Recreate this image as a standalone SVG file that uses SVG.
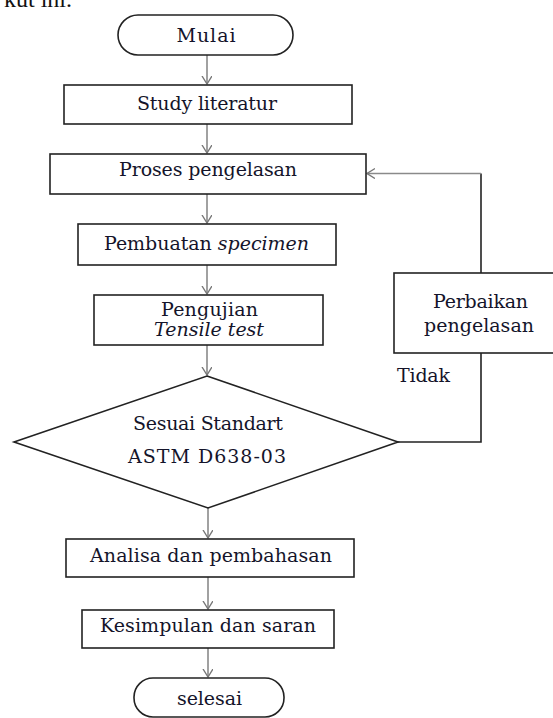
<svg xmlns="http://www.w3.org/2000/svg" width="553" height="718" viewBox="0 0 553 718">
<style>
.box{fill:#fff;stroke:#222;stroke-width:1.6}
.t{font-family:"DejaVu Serif","Liberation Serif",serif;font-size:19px;fill:#14142a;text-anchor:middle}
.i{font-style:italic}
.c{fill:none;stroke:#8a8a8a;stroke-width:1.6}
.k{fill:none;stroke:#222;stroke-width:1.6}
</style>
<defs>
<marker id="ah" markerUnits="userSpaceOnUse" markerWidth="14" markerHeight="14" refX="8" refY="5" orient="auto">
<path d="M0,0 L8,5 L0,10" fill="none" stroke="#777" stroke-width="1.4"/>
</marker>
</defs>
<rect width="553" height="718" fill="#fff"/>
<text x="72" y="7" font-family="Liberation Serif, serif" font-size="24" fill="#111" text-anchor="end">kut ini.</text>
<g id="connectors">
<line class="c" x1="207" y1="55" x2="207" y2="84" marker-end="url(#ah)"/>
<line class="c" x1="207" y1="124" x2="207" y2="153" marker-end="url(#ah)"/>
<line class="c" x1="207" y1="194" x2="207" y2="223" marker-end="url(#ah)"/>
<line class="c" x1="207" y1="265" x2="207" y2="294" marker-end="url(#ah)"/>
<line class="c" x1="207" y1="345" x2="207" y2="375" marker-end="url(#ah)"/>
<line class="c" x1="208" y1="508" x2="208" y2="538" marker-end="url(#ah)"/>
<line class="c" x1="208" y1="577" x2="208" y2="609" marker-end="url(#ah)"/>
<line class="c" x1="208" y1="648" x2="208" y2="677" marker-end="url(#ah)"/>
<polyline class="k" points="398,442 481,442 481,353"/>
<polyline class="k" points="481,273 481,173.5"/>
<line class="c" x1="481" y1="173.5" x2="367" y2="173.5" marker-end="url(#ah)"/>
</g>
<g id="mulai">
<rect class="box" x="118" y="15" width="175" height="40" rx="20" ry="20"/>
<text class="t" x="206" y="42" textLength="59">Mulai</text>
</g>
<g id="study">
<rect class="box" x="64" y="85" width="288" height="39"/>
<text class="t" x="207" y="110" textLength="140">Study literatur</text>
</g>
<g id="proses">
<rect class="box" x="50" y="154" width="316" height="40"/>
<text class="t" x="208" y="176" textLength="178">Proses pengelasan</text>
</g>
<g id="pembuatan">
<rect class="box" x="78" y="224" width="258" height="41"/>
<text class="t" x="206.5" y="250" textLength="205">Pembuatan <tspan class="i">specimen</tspan></text>
</g>
<g id="pengujian">
<rect class="box" x="94" y="295" width="229" height="50"/>
<text class="t" x="209.5" y="316" textLength="97">Pengujian</text>
<text class="t i" x="209" y="336" textLength="110">Tensile test</text>
</g>
<g id="keputusan">
<polygon class="box" points="207,376 398,442 208,508 14,442"/>
<text class="t" x="208" y="430" textLength="150">Sesuai Standart</text>
<text class="t" x="207" y="463" textLength="158">ASTM D638-03</text>
</g>
<g id="tidak">
<text class="t" x="423.5" y="382" textLength="53">Tidak</text>
</g>
<g id="perbaikan">
<rect class="box" x="394" y="273" width="174" height="80"/>
<text class="t" x="480.5" y="308" textLength="95">Perbaikan</text>
<text class="t" x="479" y="332" textLength="110">pengelasan</text>
</g>
<g id="analisa">
<rect class="box" x="66" y="539" width="288" height="38"/>
<text class="t" x="211" y="562" textLength="242">Analisa dan pembahasan</text>
</g>
<g id="kesimpulan">
<rect class="box" x="82" y="610" width="252" height="38"/>
<text class="t" x="208" y="632" textLength="216">Kesimpulan dan saran</text>
</g>
<g id="selesai">
<rect class="box" x="134" y="678" width="150" height="39" rx="19" ry="19"/>
<text class="t" x="209.5" y="705" textLength="65">selesai</text>
</g>
</svg>
